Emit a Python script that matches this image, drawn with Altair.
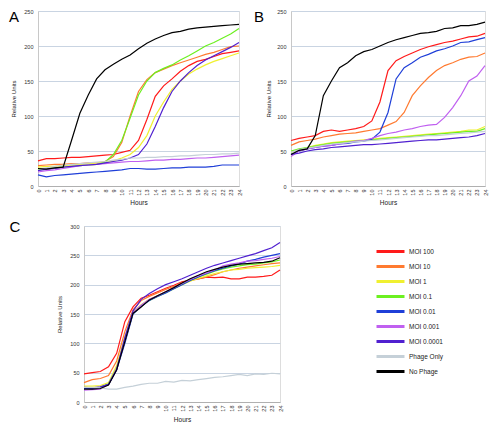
import altair as alt
import pandas as pd

hours = list(range(25))
series_names = ["MOI 100", "MOI 10", "MOI 1", "MOI 0.1", "MOI 0.01",
                "MOI 0.001", "MOI 0.0001", "Phage Only", "No Phage"]
series_colors = ["#ff1a1a", "#ff7a30", "#f0f030", "#6cf020", "#1f3fd8",
                 "#c060f0", "#5020d0", "#c5d0d8", "#000000"]

# Panel A
a_moi100 = [36, 39, 39, 40, 41, 41, 42, 43, 44, 45, 48, 51, 65, 95, 128, 143, 153, 164, 172, 178, 181, 185, 189, 191, 193]
a_moi10 = [29, 30, 31, 31, 32, 32, 33, 33, 35, 42, 62, 100, 135, 152, 162, 167, 172, 176, 180, 184, 188, 191, 195, 199, 200]
a_moi1 = [27, 28, 28, 29, 30, 31, 32, 33, 34, 36, 40, 45, 55, 72, 100, 120, 138, 150, 160, 167, 173, 178, 182, 186, 190]
a_moi01 = [23, 25, 26, 27, 28, 29, 30, 31, 34, 45, 65, 97, 130, 150, 162, 168, 173, 180, 186, 193, 200, 205, 211, 217, 225]
a_moi001 = [16, 13, 15, 16, 17, 18, 19, 20, 21, 22, 23, 25, 25, 24, 24, 25, 26, 26, 27, 27, 27, 28, 30, 30, 30]
a_moi0001 = [20, 22, 23, 25, 27, 29, 30, 31, 32, 33, 34, 35, 35, 36, 37, 37, 38, 38, 39, 40, 40, 41, 42, 43, 44]
a_moi00001 = [22, 24, 25, 27, 28, 29, 30, 31, 33, 35, 37, 40, 45, 60, 85, 112, 135, 150, 162, 172, 180, 186, 192, 198, 205]
a_phage = [24, 26, 28, 30, 31, 32, 33, 34, 35, 37, 38, 40, 40, 41, 41, 42, 42, 43, 43, 44, 45, 45, 46, 46, 47]
a_nophage = [25, 24, 26, 27, 65, 104, 130, 153, 166, 174, 181, 187, 196, 204, 210, 215, 219, 221, 224, 226, 227, 228, 229, 230, 231]

# Panel B
b_moi100 = [65, 68, 70, 72, 78, 80, 78, 80, 82, 85, 93, 120, 165, 179, 185, 190, 195, 199, 202, 205, 207, 210, 213, 214, 218]
b_moi10 = [58, 63, 65, 67, 70, 72, 74, 75, 76, 78, 80, 82, 87, 92, 105, 129, 143, 155, 165, 172, 176, 181, 184, 185, 190]
b_moi1 = [48, 52, 55, 58, 60, 62, 63, 64, 65, 66, 67, 68, 69, 70, 71, 72, 73, 74, 75, 76, 77, 78, 80, 80, 85]
b_moi01 = [50, 53, 55, 57, 59, 61, 62, 63, 64, 65, 66, 67, 68, 69, 70, 71, 72, 73, 74, 75, 76, 77, 78, 78, 82]
b_moi001 = [45, 50, 53, 55, 57, 58, 60, 61, 63, 64, 67, 77, 105, 153, 169, 176, 184, 188, 193, 196, 200, 205, 206, 209, 212]
b_moi0001 = [42, 50, 53, 55, 57, 58, 60, 62, 64, 65, 68, 72, 75, 77, 80, 82, 85, 87, 88, 98, 112, 129, 150, 157, 172]
b_moi00001 = [45, 47, 50, 52, 53, 55, 56, 57, 58, 59, 59, 60, 61, 62, 63, 64, 65, 66, 66, 67, 68, 69, 70, 72, 75]
b_phage = [48, 52, 54, 56, 58, 60, 61, 62, 63, 64, 65, 66, 67, 68, 69, 70, 71, 72, 72, 73, 74, 75, 76, 77, 78]
b_nophage = [45, 51, 53, 72, 129, 150, 169, 176, 186, 192, 195, 200, 205, 209, 212, 215, 218, 219, 221, 225, 226, 229, 229, 231, 234]

# Panel C
c_moi100 = [48, 50, 52, 60, 83, 137, 162, 177, 182, 188, 194, 199, 205, 208, 210, 213, 212, 213, 210, 210, 213, 213, 214, 216, 225]
c_moi10 = [33, 38, 40, 45, 70, 120, 157, 173, 180, 186, 192, 197, 203, 207, 210, 213, 217, 222, 225, 228, 230, 232, 234, 236, 237]
c_moi1 = [27, 27, 28, 33, 62, 110, 153, 166, 175, 181, 187, 193, 200, 206, 211, 215, 219, 222, 225, 226, 228, 229, 230, 231, 233]
c_moi01 = [24, 24, 25, 31, 58, 104, 151, 164, 173, 180, 186, 193, 200, 207, 213, 218, 223, 227, 230, 232, 234, 235, 237, 239, 242]
c_moi001 = [23, 23, 25, 30, 55, 100, 150, 163, 173, 180, 186, 193, 200, 207, 213, 219, 224, 228, 232, 235, 240, 243, 247, 250, 253]
c_moi0001 = [20, 21, 22, 30, 57, 105, 152, 165, 175, 181, 188, 195, 202, 209, 215, 220, 225, 232, 235, 237, 240, 241, 243, 245, 248]
c_moi00001 = [25, 24, 26, 30, 55, 110, 155, 175, 185, 193, 200, 205, 210, 216, 222, 228, 233, 237, 241, 245, 249, 253, 258, 263, 272]
c_phage = [25, 25, 24, 22, 22, 25, 27, 30, 32, 32, 35, 34, 37, 36, 38, 40, 42, 43, 45, 47, 45, 48, 47, 49, 48]
c_nophage = [22, 22, 23, 29, 55, 103, 151, 162, 174, 181, 188, 195, 203, 210, 216, 222, 226, 230, 233, 235, 236, 237, 238, 240, 246]

FONT = "Liberation Sans"


def letter_title(letter, dx, dy):
    return alt.TitleParams(letter, anchor="start", frame="group", dx=dx, dy=dy,
                           fontSize=15, fontWeight="normal", font=FONT, color="#000000",
                           baseline="top", offset=0)


def panel_df(cols):
    rows = []
    for name, vals in zip(series_names, cols):
        for h, v in zip(hours, vals):
            rows.append({"hour": h, "value": v, "series": name})
    return pd.DataFrame(rows)


def panel(cols, w, h, ymax, ytitle_pad, xtitle_pad, legend, title=None):
    df = panel_df(cols)
    base = alt.Chart(df, title=title) if title is not None else alt.Chart(df)
    return base.mark_line(strokeWidth=1.2).encode(
        x=alt.X("hour:Q", scale=alt.Scale(domain=[0, 24], nice=False, zero=False),
                axis=alt.Axis(values=hours, labelAngle=270, title="Hours", grid=False,
                              labelFontSize=5.5, titleFontSize=6.5, titlePadding=xtitle_pad,
                              labelPadding=3, ticks=False, domainColor="#b0b0b0",
                              labelColor="#333333", titleColor="#222222", titleFontWeight="normal",
                              labelFont=FONT, titleFont=FONT, labelFlush=False, labelOverlap=False)),
        y=alt.Y("value:Q", scale=alt.Scale(domain=[0, ymax], nice=False),
                axis=alt.Axis(values=list(range(0, ymax + 1, 50)), title="Relative Units",
                              labelFontSize=5.5, titleFontSize=6, titlePadding=ytitle_pad, labelPadding=5,
                              ticks=False, domainColor="#c8c8c8", gridColor="#c9d4e2",
                              labelColor="#333333", titleColor="#222222", titleFontWeight="normal",
                              labelFont=FONT, titleFont=FONT, labelFlush=False)),
        color=alt.Color("series:N", scale=alt.Scale(domain=series_names, range=series_colors),
                        sort=series_names, legend=legend),
    ).properties(width=w, height=h)


leg = alt.Legend(title=None, orient="right", offset=82, padding=17, symbolType="M-2,0H2",
                 symbolStrokeWidth=3, symbolSize=196, labelFontSize=6.5, labelFont=FONT,
                 labelColor="#222222", rowPadding=0, labelOffset=10)

pa = panel([a_moi100, a_moi10, a_moi1, a_moi01, a_moi001, a_moi0001, a_moi00001, a_phage, a_nophage],
           201, 175, 250, 7, 4, None, letter_title("A", -29, 16))
pb = panel([b_moi100, b_moi10, b_moi1, b_moi01, b_moi001, b_moi0001, b_moi00001, b_phage, b_nophage],
           194, 175, 250, 5, 4, None, letter_title("B", -37, 16))
pc = panel([c_moi100, c_moi10, c_moi1, c_moi01, c_moi001, c_moi0001, c_moi00001, c_phage, c_nophage],
           196, 176, 300, 7, 5, leg)

# empty holder on the left of panel C; its axis title carries the panel letter "C"
spacer = alt.Chart(pd.DataFrame({"v": [0]}),
                   view=alt.ViewBackground(stroke="transparent", fill="transparent")).mark_point(
    opacity=0, strokeOpacity=0, fillOpacity=0, size=1).encode(
    x=alt.X("v:Q", axis=None),
    y=alt.Y("v:Q", axis=alt.Axis(title="C", labels=False, ticks=False, domain=False, grid=False,
                                 titleAngle=0, titleX=-29, titleY=-7, titleAlign="left",
                                 titleBaseline="top", titleFontSize=15, titleFont=FONT,
                                 titleFontWeight="normal", titleColor="#000000"))).properties(
    width=1, height=176)

row1 = alt.hconcat(pa, pb, spacing=10)
row2 = alt.hconcat(spacer, pc, spacing=16).resolve_legend(color="independent")
chart = alt.vconcat(row1, row2, spacing=11).properties(padding=0).resolve_legend(
    color="independent").configure_view(stroke=None).configure(background="white")

chart.save("out.html", embed_options={"renderer": "svg", "actions": False})
